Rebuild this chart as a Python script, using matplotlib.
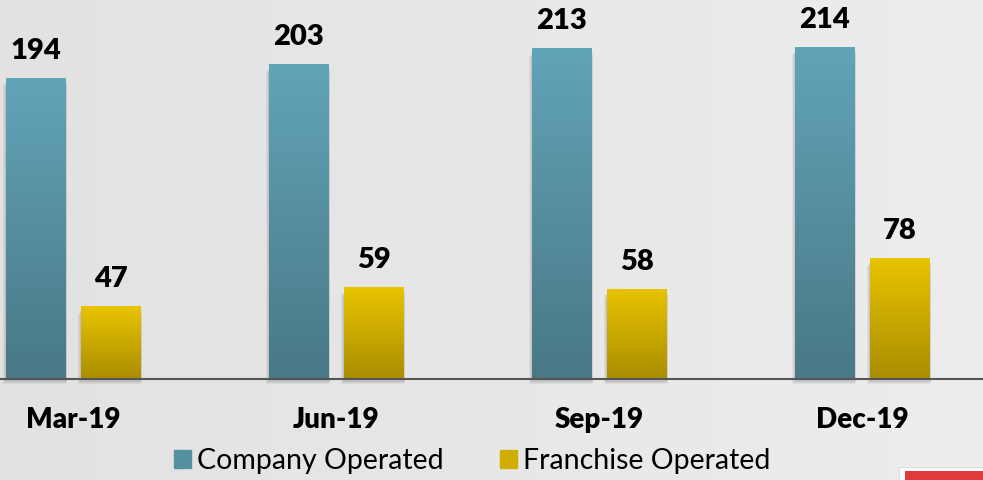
import numpy as np
import matplotlib.pyplot as plt
import matplotlib.transforms as mtransforms
from matplotlib.patches import Rectangle
from matplotlib.colors import LinearSegmentedColormap

plt.rcParams['font.family'] = ['Lato', 'DejaVu Sans']

# Data
quarters = ['Mar-19', 'Jun-19', 'Sep-19', 'Dec-19']
company = [194, 203, 213, 214]
franchise = [47, 59, 58, 78]

W, H = 983, 480
fig = plt.figure(figsize=(W / 100, H / 100), dpi=100)

# background gradient (slightly darker on the left)
bg = fig.add_axes([0, 0, 1, 1], zorder=0)
grad = np.linspace(0, 1, 256).reshape(1, -1)
bg_cmap = LinearSegmentedColormap.from_list('bg', ['#e2e2e2', '#ededed'])
bg.imshow(grad, aspect='auto', cmap=bg_cmap, extent=[0, 1, 0, 1])
bg.set_axis_off()

base_px = 379
ax = fig.add_axes([0, 1 - base_px / H, 1, base_px / H], zorder=1)
ax.patch.set_alpha(0)

group_px = 263.0
xmin = -73.5 / group_px
ax.set_xlim(xmin, xmin + W / group_px)
ax.set_ylim(0, base_px / 1.553)

x = np.arange(len(quarters))
off = 0.1426
bw = 60 / group_px

teal = LinearSegmentedColormap.from_list('teal', ['#497886', '#62a4b8'])
gold = LinearSegmentedColormap.from_list('gold', ['#aa8d00', '#e8c400'])
vgrad = np.linspace(0, 1, 256).reshape(-1, 1)


def grad_bars(xs, vals, cmap):
    bars = ax.bar(xs, vals, width=bw, color='none', edgecolor='none', zorder=3)
    for b in bars:
        bx, by = b.get_x(), b.get_y()
        bwid, bh = b.get_width(), b.get_height()
        # soft shadow below and beside the bar
        for k, a in enumerate([0.05, 0.05, 0.06]):
            s = Rectangle((bx - 0.004 * (3 - k), -3.5 + k * 0.8), bwid + 0.012 - 0.002 * k,
                          bh - 1.5, color='black', alpha=a, zorder=2, clip_on=False, lw=0)
            ax.add_patch(s)
        im = ax.imshow(vgrad, aspect='auto', cmap=cmap, origin='lower',
                       extent=[bx, bx + bwid, by, by + bh], zorder=3)
        im.set_clip_path(b)
    return bars


grad_bars(x - off, company, teal)
grad_bars(x + off, franchise, gold)

for xi, v in zip(x - off, company):
    ax.annotate(str(v), (xi, v), xytext=(0, 10), textcoords='offset points',
                ha='center', va='bottom', fontsize=21, fontweight='heavy', color='black')
for xi, v in zip(x + off, franchise):
    ax.annotate(str(v), (xi, v), xytext=(0, 10), textcoords='offset points',
                ha='center', va='bottom', fontsize=21, fontweight='heavy', color='black')

ax.axhline(0, color='#555555', lw=1.5, zorder=4, clip_on=False)
ax.set_xticks([])
ax.set_yticks([])
for sp in ax.spines.values():
    sp.set_visible(False)

lab_tr = mtransforms.blended_transform_factory(ax.transData, fig.transFigure)
for xi, q in zip(x, quarters):
    ax.text(xi, 1 - 420 / H, q, transform=lab_tr,
            ha='center', va='center', fontsize=20, fontweight='heavy')

handles = [Rectangle((0, 0), 1, 1, color='#55909f'), Rectangle((0, 0), 1, 1, color='#d0ae00')]
fig.legend(handles, ['Company Operated', 'Franchise Operated'], ncol=2,
           loc='center', bbox_to_anchor=(472 / W, 1 - 461 / H), frameon=False,
           fontsize=20.5, handlelength=0.6, handleheight=0.6, handletextpad=0.2,
           columnspacing=2.0)

# red element at bottom right
fig.patches.append(Rectangle((899 / W, 0), 84 / W, 13 / H, transform=fig.transFigure,
                             facecolor='white', edgecolor='#dddddd', lw=0.8, zorder=5))
fig.patches.append(Rectangle((905 / W, 0), 78 / W, 9 / H, transform=fig.transFigure,
                             facecolor='#e23a3a', edgecolor='none', zorder=6))

fig.savefig('out.png', dpi=100)
